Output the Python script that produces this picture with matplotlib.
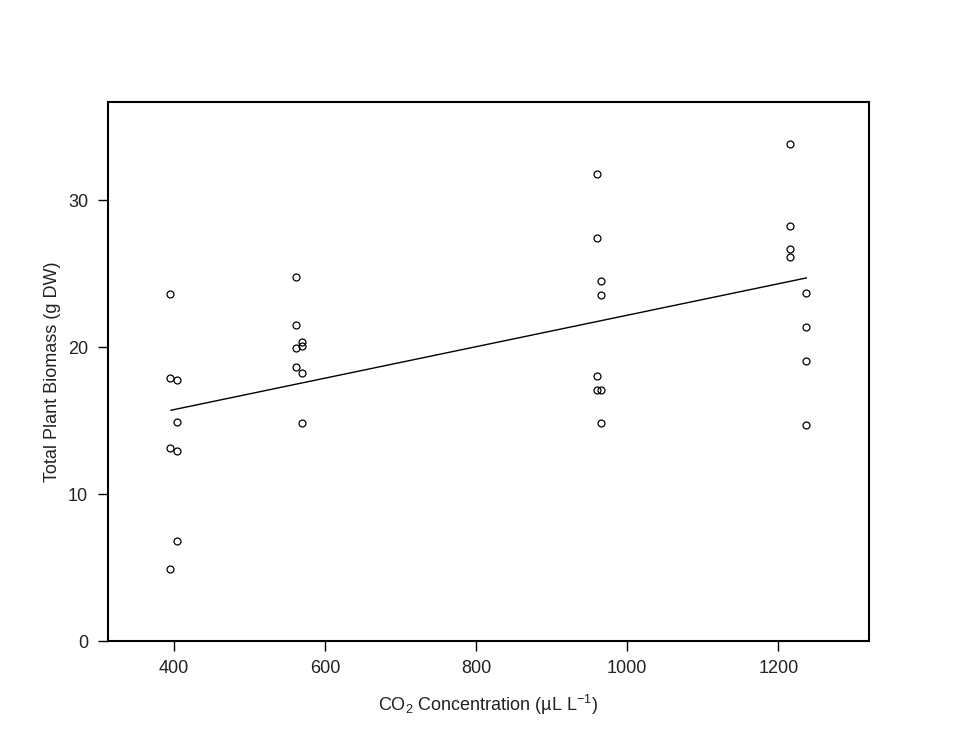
import matplotlib.pyplot as plt

plt.rcParams['font.family'] = ['Liberation Sans', 'DejaVu Sans']
plt.rcParams['mathtext.fontset'] = 'custom'
plt.rcParams['mathtext.rm'] = 'Liberation Sans'

# points (CO2 concentration, total biomass)
co2 = [395, 395, 404, 404, 395, 404, 404, 395,
       562, 562, 569, 562, 569, 562, 569, 569,
       960, 960, 965, 965, 960, 960, 965, 965,
       1216, 1216, 1216, 1216, 1237, 1237, 1237, 1237]
biomass = [23.6, 17.9, 17.75, 14.9, 13.15, 12.9, 6.8, 4.9,
           24.75, 21.5, 20.35, 19.9, 20.05, 18.65, 18.25, 14.8,
           31.8, 27.45, 24.5, 23.55, 18.0, 17.1, 17.1, 14.8,
           33.8, 28.2, 26.7, 26.15, 23.65, 21.35, 19.05, 14.7]

# fitted line end points
fit_x = [396, 1237]
fit_y = [15.7, 24.7]

fig = plt.figure(figsize=(9.67, 7.39), dpi=100)
ax = fig.add_axes([0.1112, 0.1326, 0.7875, 0.7294])

ax.plot(co2, biomass, linestyle='none', marker='o', markersize=5,
        markerfacecolor='none', markeredgecolor='black', markeredgewidth=0.9)
ax.plot(fit_x, fit_y, color='black', linewidth=1)

ax.set_xlim(312, 1320)
ax.set_ylim(0, 36.67)
ax.set_xticks([400, 600, 800, 1000, 1200])
ax.set_yticks([0, 10, 20, 30])
ax.tick_params(direction='out', length=7, width=1, labelsize=13, pad=7,
               colors='black', labelcolor='#222222')
for s in ax.spines.values():
    s.set_linewidth(1.5)

ax.set_xlabel('CO$\\mathregular{_2}$ Concentration (\u00b5L L$\\mathregular{^{-1}}$)',
              fontsize=13, labelpad=11, color='#222222')
ax.set_ylabel('Total Plant Biomass (g DW)', fontsize=13, labelpad=5, color='#222222')

fig.savefig('out.png', dpi=100)
